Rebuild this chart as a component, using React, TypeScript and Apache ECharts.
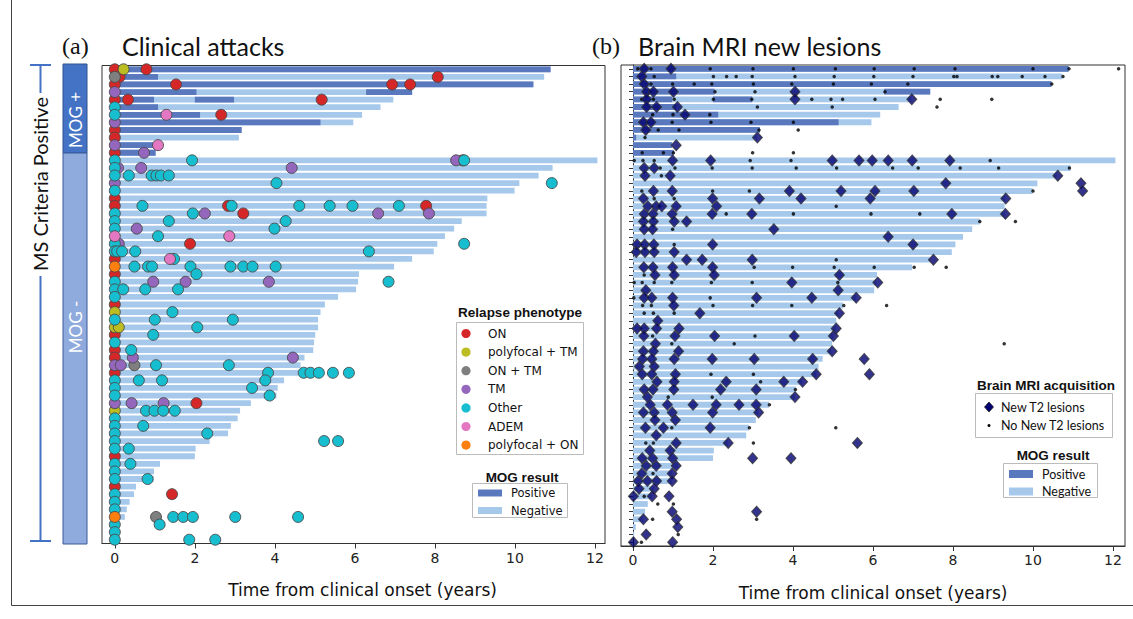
import React, { useEffect, useRef } from "react";
import * as echarts from "echarts";

// ---------- DATA ----------
const rowIds: string[] = [
  "1","2","3","4","5","6","7","8","9","10","11","12","13","14","15","16","17","18","19","20",
  "21","22","23","24","25","26","27","28","29","30","31","32","33","34","35","36","37","38","39","40",
  "41","42","43","44","45","46","47","48","49","50","51","52","53","54","55","56","57","58","59","60",
  "61","62","63"
];

// total follow-up (years) per patient row
const followUp: number[] = [
  10.89, 10.73, 10.46, 7.43, 6.96, 6.64, 6.18, 5.96, 3.17, 3.1, 0.98, 1.02,
  12.06, 10.94, 10.59, 10.11, 9.99, 9.31, 9.29, 9.29, 8.67, 8.48, 8.25, 8.06, 7.97, 7.43, 6.98,
  6.1, 6.08, 6.03, 5.58, 5.25, 5.14, 5.08, 5.08, 5.01, 4.98, 4.96, 4.74, 4.64, 4.58, 4.23, 4.07,
  4.04, 3.4, 3.13, 3.07, 2.9, 2.83, 2.37, 2.02, 2.0, 1.13, 0.98, 0.97, 0.53, 0.48, 0.37, 0.3,
  0.25, 0.07, 0.03, 0
];

// MOG positive periods: [row, start, end]
const positiveSegments: number[][] = [
  [1, 0, 10.89], [2, 0, 1.08], [3, 0, 10.46], [4, 0, 2.04], [4, 6.28, 7.43],
  [5, 0, 0.98], [5, 2.0, 2.98], [6, 0, 1.08], [7, 0, 2.13], [8, 0, 5.14],
  [9, 0, 3.17], [10, 0, 0.08], [11, 0, 0.98], [12, 0, 1.02]
];

// clinical attacks: [time, row]
const attacksON: number[][] = [
  [0,1],[0.79,1],[0.12,2],[8.07,2],[0,3],[1.53,3],[6.93,3],[7.38,3],[0,5],[0.33,5],[5.17,5],
  [2.66,7],[0,9],[0,10],[0,12],[8.69,13],[0,18],[0,19],[2.83,19],[7.78,19],[3.21,20],[1.88,24],
  [0,26],[0,28],[0,32],[0,36],[0,38],[0,39],[0,41],[2.04,45],[0,52],[0,56],[1.43,57]
];
const attacksPolyTM: number[][] = [[0.22,1],[0,33],[0,35],[0.1,35],[0,46]];
const attacksONTM: number[][] = [[0,2],[0.49,40],[1.03,60]];
const attacksTM: number[][] = [
  [0,4],[0,8],[0,11],[0.73,12],[8.53,13],[0.08,14],[0.66,14],[4.42,14],[0,16],[2.25,20],[6.58,20],
  [7.85,20],[0.55,22],[0.1,24],[0.96,29],[1.77,29],[3.85,29],[0.45,39],[4.45,39],[0,40],[0.15,40],
  [0,45],[0.42,45],[1.22,45]
];
const attacksOther: number[][] = [
  [0,6],[0,7],[0,13],[1.93,13],[8.73,13],[0,14],[0,15],[0.35,15],[0.92,15],[1.04,15],[1.15,15],[1.35,15],
  [4.04,16],[10.92,16],[0,17],[0.69,19],[2.92,19],[4.61,19],[5.37,19],[5.94,19],[7.1,19],[0,20],[1.95,20],
  [0,21],[1.35,21],[4.27,21],[0,22],[3.99,22],[1.08,23],[0,24],[8.73,24],[0,25],[0.06,25],[0.18,25],
  [0.51,25],[6.35,25],[1.48,26],[0.49,27],[0.83,27],[0.93,27],[1.89,27],[2.89,27],[3.21,27],[3.44,27],
  [4.02,27],[2.04,28],[0,29],[6.84,29],[0,30],[0.21,30],[0.76,30],[1.58,30],[0,31],[1.44,33],[0,34],
  [1.0,34],[2.95,34],[2.06,35],[0.96,36],[0,37],[0.41,38],[1.03,40],[2.85,40],[3.83,41],[4.72,41],
  [4.89,41],[5.1,41],[5.45,41],[5.85,41],[0,42],[0.6,42],[1.18,42],[3.76,42],[0,43],[3.43,43],[0,44],
  [3.87,44],[0.78,46],[0.99,46],[1.21,46],[1.5,46],[0,47],[0,48],[0.71,48],[0,49],[2.31,49],[0,50],
  [5.23,50],[5.58,50],[0,51],[0.35,51],[0,53],[0.39,53],[0,54],[0,55],[0.82,55],[0,57],[0,58],[0,59],
  [1.46,60],[1.71,60],[1.95,60],[3.01,60],[4.58,60],[0,61],[1.12,61],[0,62],[0,63],[1.86,63],[2.51,63]
];
const attacksADEM: number[][] = [[1.29,7],[1.08,11],[0,23],[2.86,23],[1.38,26]];
const attacksPolyON: number[][] = [[0,27],[0,60]];

// brain MRI: [time, row]
const mriNewT2: number[][] = [
  [0.28,1],[0.95,1],[0.22,2],[0.28,3],[0.34,4],[0.51,4],[1.01,4],[4.05,4],[0.34,5],[4.05,5],[6.97,5],
  [0.34,6],[0.59,6],[1.11,6],[1.3,7],[0.26,8],[0.45,8],[0.32,9],[3.11,10],[1.08,11],
  [0.99,13],[1.94,13],[4.98,13],[5.65,13],[5.98,13],[6.38,13],[6.98,13],[7.92,13],[0.28,14],[0.53,14],
  [0.3,15],[0.93,15],[10.62,15],[7.82,16],[11.2,16],[0.51,17],[0.98,17],[3.91,17],[5.2,17],[6.05,17],
  [7.02,17],[11.24,17],[0.26,18],[1.99,18],[3.16,18],[4.2,18],[5.93,18],[9.32,18],[0.37,19],[0.58,19],
  [0.72,19],[1.08,19],[2.09,19],[0.28,20],[0.5,20],[0.98,20],[1.98,20],[2.97,20],[7.97,20],[9.31,20],
  [0.26,21],[0.51,21],[1.03,21],[1.34,21],[0.28,22],[0.49,22],[3.52,22],[6.38,23],[0.1,24],[0.29,24],
  [0.52,24],[1.99,24],[7.0,24],[0.08,25],[0.3,25],[0.53,25],[1.03,25],[1.34,26],[1.73,26],[2.98,26],
  [7.51,26],[0.27,27],[0.5,27],[0.99,27],[1.99,27],[0.55,28],[1.03,28],[2.03,28],[5.16,28],[3.97,29],
  [6.12,29],[0.32,30],[5.13,30],[0.28,31],[0.47,31],[0.99,31],[3.09,31],[4.47,31],[5.58,31],[1.02,32],
  [1.67,33],[5.16,33],[0.62,34],[0.1,35],[0.28,35],[0.59,35],[1.15,35],[5.08,35],[0.27,36],[1.05,36],
  [2.04,36],[4.03,36],[5.01,36],[0.56,37],[0.26,38],[0.51,38],[1.14,38],[4.98,38],[0.24,39],[0.47,39],
  [1.03,39],[1.98,39],[3.03,39],[4.49,39],[5.78,39],[0.16,40],[0.53,40],[0.23,41],[0.47,41],[1.06,41],
  [4.58,41],[5.91,41],[0.6,42],[1.03,42],[2.33,42],[3.77,42],[4.24,42],[0.28,43],[0.5,43],[1.02,43],
  [2.19,43],[3.08,43],[0.36,44],[4.05,44],[0.43,45],[0.86,45],[1.5,45],[2.08,45],[2.65,45],[3.08,45],
  [0.26,46],[0.53,46],[0.98,46],[1.99,46],[3.14,46],[0.55,47],[1.06,47],[0.31,48],[0.76,48],[1.93,48],
  [0.58,49],[1.08,50],[2.38,50],[5.61,50],[0.42,51],[0.93,51],[0.23,52],[0.49,52],[0.99,52],[2.99,52],
  [3.95,52],[0.33,53],[0.58,53],[1.08,53],[0.22,54],[0.98,54],[0.13,55],[0.36,55],[0.59,55],[0.98,55],
  [0.15,56],[0.53,56],[0.01,57],[0.48,57],[0.9,57],[0.98,59],[3.09,59],[0.26,60],[1.09,60],[1.12,61],
  [0.33,62],[0.01,63],[0.99,63]
];
const mriNoNew: number[][] = [
  [0.12,1],[0.45,1],[1.93,1],[3.0,1],[4.01,1],[5.06,1],[6.03,1],[7.03,1],[8.05,1],[10.0,1],[10.9,1],[12.14,1],
  [0.53,2],[2.01,2],[2.34,2],[2.58,2],[2.98,2],[4.05,2],[5.03,2],[6.02,2],[7.0,2],[8.02,2],[8.1,2],[8.98,2],
  [9.12,2],[9.73,2],[10.3,2],[10.75,2],[0.45,3],[0.99,3],[1.53,3],[1.97,3],[3.01,3],[3.97,3],[5.01,3],
  [5.96,3],[6.87,3],[10.47,3],[2.05,4],[3.05,4],[6.3,4],[0.22,5],[0.51,5],[1.03,5],[2.01,5],[2.97,5],
  [4.47,5],[4.95,5],[5.24,5],[6.05,5],[7.68,5],[8.97,5],[3.11,6],[4.98,6],[7.6,6],[0.49,7],[1.0,7],[1.92,7],
  [0.98,8],[1.95,8],[2.95,8],[4.01,8],[0.63,9],[1.15,9],[3.15,9],[4.13,9],[0.3,10],[0.23,12],[0.76,12],
  [1.01,12],[2.99,12],[4.01,12],[0.03,13],[0.25,13],[0.53,13],[2.93,13],[3.95,13],[8.93,13],[0.68,14],
  [1.05,14],[1.98,14],[2.98,14],[4.08,14],[5.09,14],[6.49,14],[7.13,14],[8.18,14],[9.14,14],[10.91,14],
  [0.71,15],[0.22,17],[1.99,17],[2.91,17],[10.0,17],[0.53,18],[1.03,18],[5.08,19],[2.33,20],[4.01,20],
  [5.95,20],[7.17,20],[8.67,21],[9.56,21],[0.99,22],[1.03,24],[5.08,26],[3.03,27],[3.99,27],[5.03,27],
  [6.03,27],[7.03,27],[7.83,27],[0.28,28],[0.03,29],[0.23,29],[0.53,29],[0.97,29],[1.96,29],[2.98,29],
  [5.12,29],[0.02,31],[1.93,31],[0.24,32],[0.46,32],[2.0,32],[2.99,32],[3.97,32],[5.27,32],[6.34,32],
  [0.28,33],[0.51,33],[1.03,33],[0.49,36],[3.05,36],[0.97,37],[2.53,37],[9.28,37],[1.95,41],[3.01,41],
  [3.19,42],[4.06,43],[0.88,44],[1.98,44],[3.41,45],[0.97,48],[2.91,48],[5.07,48],[0.32,50],[0.51,50],
  [3.01,50],[0.5,54],[0.28,57],[0.62,58],[1.01,58],[0.49,60],[3.09,60],[1.13,62],[0.21,63]
];

const xTicks: number[] = [0, 2, 4, 6, 8, 10, 12];

const phenotypeNames = ["ON", "polyfocal + TM", "ON + TM", "TM", "Other", "ADEM", "polyfocal + ON"];
const phenotypeColors = ["#d62728", "#bcbd22", "#7f7f7f", "#9467bd", "#17becf", "#e377c2", "#ff7f0e"];
const phenotypeData = [attacksON, attacksPolyTM, attacksONTM, attacksTM, attacksOther, attacksADEM, attacksPolyON];

const POS = "#5a78be";
const NEG = "#a5c8eb";

// ---------- HELPERS ----------
const toPts = (arr: number[][]) => arr.map(([t, r]) => [t, r - 1]);

function barSeries(name: string, data: number[][], color: string, gi: number) {
  return {
    type: "custom",
    name,
    xAxisIndex: gi,
    yAxisIndex: gi,
    data,
    encode: { x: [0, 1], y: 2 },
    z: 1,
    renderItem: (params: any, api: any) => {
      const s = api.value(0), e = api.value(1), r = api.value(2);
      const p0 = api.coord([s, r]);
      const p1 = api.coord([e, r]);
      const h = api.size([0, 1])[1] * 0.76;
      return {
        type: "rect",
        shape: { x: p0[0], y: p0[1] - h / 2, width: Math.max(0, p1[0] - p0[0]), height: h },
        style: { fill: color },
      };
    },
  };
}

const tickFont = { fontFamily: "DejaVu Sans", fontSize: 14, color: "#222" };

function makeX(gi: number, min: number, max: number, shift: number) {
  return {
    type: "value",
    gridIndex: gi,
    min,
    max,
    name: "Time from clinical onset (years)",
    nameLocation: "middle",
    nameGap: 38,
    nameTextStyle: { fontFamily: "DejaVu Sans", fontSize: 17, color: "#111", padding: [0, 0, 0, shift] },
    axisLine: { show: true, lineStyle: { color: "#333" } },
    axisTick: { show: true, length: 5, customValues: xTicks, lineStyle: { color: "#333" } },
    axisLabel: { ...tickFont, margin: 7, customValues: xTicks },
    splitLine: { show: false },
  };
}
function makeY(gi: number) {
  return {
    type: "category",
    gridIndex: gi,
    data: rowIds,
    inverse: true,
    axisLine: { show: true, lineStyle: { color: "#333" } },
    axisTick: { show: true, alignWithLabel: true, interval: 0, length: 4, lineStyle: { color: "#333" } },
    axisLabel: { show: false },
    splitLine: { show: false },
  };
}

// ---------- GRAPHIC (labels & legends) ----------
const LAT = '"Lato", "Open Sans", sans-serif';
const ARB = 'bold 13.5px "Liberation Sans", Arial, sans-serif';

function buildGraphics() {
  const g: any[] = [];
  // outer frame lines
  g.push({ type: "line", shape: { x1: 11.5, y1: 0, x2: 11.5, y2: 605.5 }, style: { stroke: "#444", lineWidth: 1 } });
  g.push({ type: "line", shape: { x1: 11.5, y1: 605.5, x2: 1133, y2: 605.5 }, style: { stroke: "#444", lineWidth: 1 } });
  // panel titles
  g.push({ type: "text", x: 62, y: 46, style: { text: "(a)", font: '24px "Liberation Serif", serif', fill: "#111", verticalAlign: "middle" } });
  g.push({ type: "text", x: 122, y: 46, style: { text: "Clinical attacks", font: `25px ${LAT}`, fill: "#111", verticalAlign: "middle" } });
  g.push({ type: "text", x: 592, y: 46, style: { text: "(b)", font: '24px "Liberation Serif", serif', fill: "#111", verticalAlign: "middle" } });
  g.push({ type: "text", x: 638, y: 46, style: { text: "Brain MRI new lesions", font: `25px ${LAT}`, fill: "#111", verticalAlign: "middle" } });
  // MS criteria bracket
  const bl = { stroke: "#4472c4", lineWidth: 2 };
  g.push({ type: "line", shape: { x1: 30, y1: 65, x2: 51, y2: 65 }, style: bl });
  g.push({ type: "line", shape: { x1: 40.5, y1: 65, x2: 40.5, y2: 93 }, style: bl });
  g.push({ type: "line", shape: { x1: 40.5, y1: 276, x2: 40.5, y2: 541 }, style: bl });
  g.push({ type: "line", shape: { x1: 30, y1: 541, x2: 51, y2: 541 }, style: bl });
  g.push({ type: "text", x: 40, y: 184, rotation: Math.PI / 2, style: { text: "MS Criteria Positive", font: `20px ${LAT}`, fill: "#111", align: "center", verticalAlign: "middle" } });
  // MOG boxes
  g.push({ type: "rect", shape: { x: 63, y: 64, width: 24, height: 89 }, style: { fill: "#4472c4", stroke: "#2f528f", lineWidth: 1 } });
  g.push({ type: "rect", shape: { x: 63, y: 153, width: 24, height: 391 }, style: { fill: "#8faadc", stroke: "#3a5a9a", lineWidth: 1 } });
  g.push({ type: "text", x: 75, y: 120, rotation: Math.PI / 2, style: { text: "MOG +", font: `17px ${LAT}`, fill: "#fff", align: "center", verticalAlign: "middle" } });
  g.push({ type: "text", x: 75, y: 327, rotation: Math.PI / 2, style: { text: "MOG -", font: `17px ${LAT}`, fill: "#fff", align: "center", verticalAlign: "middle" } });

  // ---- left legend: Relapse phenotype
  g.push({ type: "text", x: 520, y: 312, style: { text: "Relapse phenotype", font: ARB, fill: "#111", align: "center", verticalAlign: "middle" } });
  g.push({ type: "rect", shape: { x: 456.5, y: 322.5, width: 127, height: 132 }, style: { fill: "#fff", stroke: "#bbb", lineWidth: 1 } });
  phenotypeNames.forEach((n, i) => {
    const y = 333.5 + i * 18.6;
    g.push({ type: "circle", shape: { cx: 466, cy: y, r: 4.6 }, style: { fill: phenotypeColors[i] } });
    g.push({ type: "text", x: 488, y, style: { text: n, font: '12px "DejaVu Sans"', fill: "#111", verticalAlign: "middle" } });
  });
  // ---- left legend: MOG result
  g.push({ type: "text", x: 522, y: 477, style: { text: "MOG result", font: ARB, fill: "#111", align: "center", verticalAlign: "middle" } });
  g.push({ type: "rect", shape: { x: 472.5, y: 483.5, width: 95, height: 34 }, style: { fill: "#fff", stroke: "#bbb", lineWidth: 1 } });
  g.push({ type: "rect", shape: { x: 478, y: 489.5, width: 24, height: 7 }, style: { fill: POS } });
  g.push({ type: "rect", shape: { x: 478, y: 507, width: 24, height: 7 }, style: { fill: NEG } });
  g.push({ type: "text", x: 511, y: 493, style: { text: "Positive", font: '11.5px "DejaVu Sans"', fill: "#111", verticalAlign: "middle" } });
  g.push({ type: "text", x: 511, y: 511, style: { text: "Negative", font: '11.5px "DejaVu Sans"', fill: "#111", verticalAlign: "middle" } });

  // ---- right legend: Brain MRI acquisition
  g.push({ type: "text", x: 1046, y: 385, style: { text: "Brain MRI acquisition", font: ARB, fill: "#111", align: "center", verticalAlign: "middle" } });
  g.push({ type: "rect", shape: { x: 975.5, y: 393.5, width: 137, height: 44 }, style: { fill: "#fff", stroke: "#bbb", lineWidth: 1 } });
  g.push({ type: "polygon", shape: { points: [[989, 402], [993.5, 407], [989, 412], [984.5, 407]] }, style: { fill: "#000070", stroke: "#222", lineWidth: 0.8 } });
  g.push({ type: "circle", shape: { cx: 989, cy: 425.5, r: 1.5 }, style: { fill: "#000" } });
  g.push({ type: "text", x: 1001, y: 407, style: { text: "New T2 lesions", font: `12.5px ${LAT}`, fill: "#111", verticalAlign: "middle" } });
  g.push({ type: "text", x: 1001, y: 425, style: { text: "No New T2 lesions", font: `12.5px ${LAT}`, fill: "#111", verticalAlign: "middle" } });
  // ---- right legend: MOG result
  g.push({ type: "text", x: 1053, y: 455, style: { text: "MOG result", font: ARB, fill: "#111", align: "center", verticalAlign: "middle" } });
  g.push({ type: "rect", shape: { x: 1003.5, y: 463.5, width: 94, height: 34 }, style: { fill: "#fff", stroke: "#bbb", lineWidth: 1 } });
  g.push({ type: "rect", shape: { x: 1009, y: 470, width: 24, height: 8 }, style: { fill: POS } });
  g.push({ type: "rect", shape: { x: 1009, y: 487.5, width: 24, height: 8 }, style: { fill: NEG } });
  g.push({ type: "text", x: 1042, y: 474, style: { text: "Positive", font: `12.5px ${LAT}`, fill: "#111", verticalAlign: "middle" } });
  g.push({ type: "text", x: 1042, y: 491, style: { text: "Negative", font: `12.5px ${LAT}`, fill: "#111", verticalAlign: "middle" } });
  return g;
}

export default function App() {
  const ref = useRef<HTMLDivElement>(null);
  useEffect(() => {
    document.body.style.margin = "0";
    if (!ref.current) return;
    const chart = echarts.init(ref.current, undefined, { renderer: "svg" });

    const negBars = followUp.map((v, i) => [0, v, i]);
    const posBars = positiveSegments.map(([r, s, e]) => [s, e, r - 1]);

    const attackSeries = phenotypeNames.map((n, i) => ({
      type: "scatter",
      name: n,
      xAxisIndex: 0,
      yAxisIndex: 0,
      data: toPts(phenotypeData[i]),
      symbol: "circle",
      symbolSize: 11,
      itemStyle: { color: phenotypeColors[i], borderColor: "#4a4a4a", borderWidth: 0.9, opacity: 1 },
      z: 3,
    }));

    const option: any = {
      animation: false,
      backgroundColor: "#fff",
      grid: [
        { left: 102, top: 65.5, width: 503, height: 478, show: true, borderColor: "#333", borderWidth: 1 },
        { left: 621, top: 65, width: 504, height: 481, show: true, borderColor: "#333", borderWidth: 1 },
      ],
      xAxis: [makeX(0, -0.32, 12.25, 18), makeX(1, -0.3, 12.3, 0)],
      yAxis: [makeY(0), makeY(1)],
      series: [
        barSeries("Negative", negBars, NEG, 0),
        barSeries("Positive", posBars, POS, 0),
        ...attackSeries,
        barSeries("Negative", negBars, NEG, 1),
        barSeries("Positive", posBars, POS, 1),
        {
          type: "scatter",
          name: "No New T2 lesions",
          xAxisIndex: 1,
          yAxisIndex: 1,
          data: toPts(mriNoNew),
          symbol: "circle",
          symbolSize: 3.5,
          itemStyle: { color: "#000" },
          z: 3,
        },
        {
          type: "scatter",
          name: "New T2 lesions",
          xAxisIndex: 1,
          yAxisIndex: 1,
          data: toPts(mriNewT2),
          symbol: "diamond",
          symbolSize: [10, 11],
          itemStyle: { color: "#000070", borderColor: "#333", borderWidth: 1 },
          z: 4,
        },
      ],
      graphic: buildGraphics(),
    };
    chart.setOption(option);
    return () => chart.dispose();
  }, []);
  return <div ref={ref} style={{ width: 1133, height: 619 }} />;
}
